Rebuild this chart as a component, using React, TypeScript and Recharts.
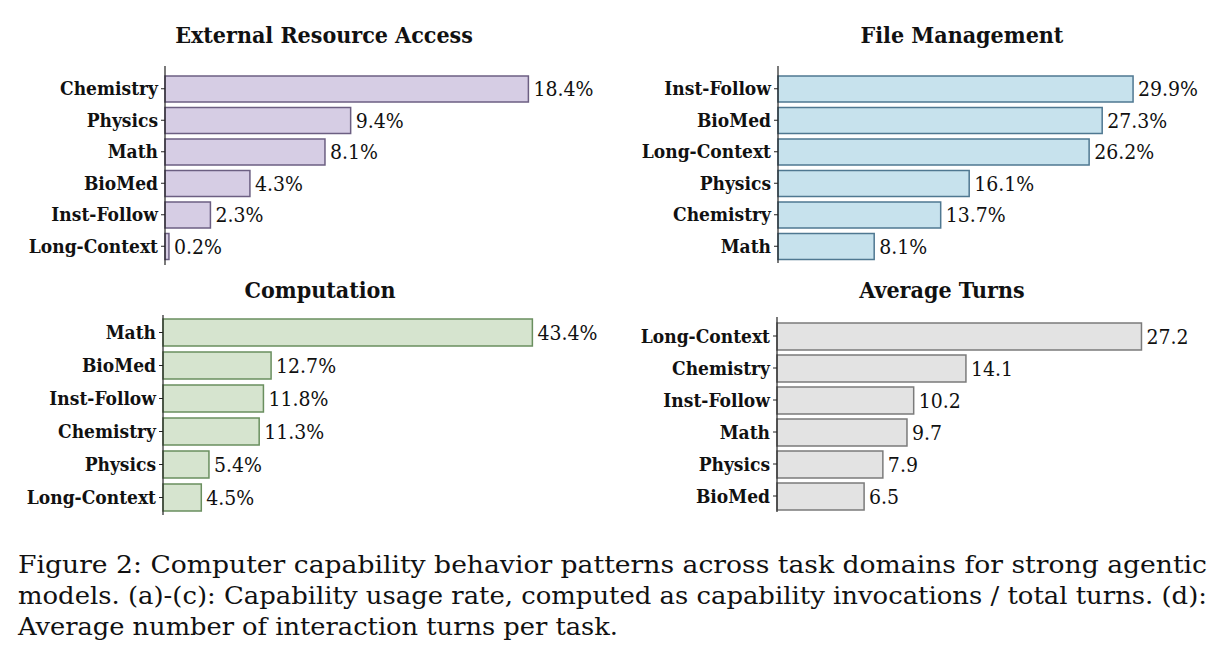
import React from "react";
import { Bar, BarChart, LabelList, XAxis, YAxis } from "recharts";

// Capability usage rate (%) per task domain, sorted high to low
const resourceDomains = ["Chemistry", "Physics", "Math", "BioMed", "Inst-Follow", "Long-Context"];
const resourceRates = [18.4, 9.4, 8.1, 4.3, 2.3, 0.2];

const fileDomains = ["Inst-Follow", "BioMed", "Long-Context", "Physics", "Chemistry", "Math"];
const fileRates = [29.9, 27.3, 26.2, 16.1, 13.7, 8.1];

const computeDomains = ["Math", "BioMed", "Inst-Follow", "Chemistry", "Physics", "Long-Context"];
const computeRates = [43.4, 12.7, 11.8, 11.3, 5.4, 4.5];

// Average interaction turns per task
const turnDomains = ["Long-Context", "Chemistry", "Inst-Follow", "Math", "Physics", "BioMed"];
const avgTurns = [27.2, 14.1, 10.2, 9.7, 7.9, 6.5];

const captionLines = [
  "Figure 2: Computer capability behavior patterns across task domains for strong agentic",
  "models. (a)-(c): Capability usage rate, computed as capability invocations / total turns. (d):",
  "Average number of interaction turns per task.",
];

const SERIF = "'DejaVu Serif Condensed', 'DejaVu Serif', serif";

type PanelProps = {
  title: string;
  domains: string[];
  values: number[];
  suffix: string;
  fill: string;
  stroke: string;
  left: number;
  axisX: number;
  axisTop: number;
  axisBottom: number;
  padTop: number;
  padBottom: number;
  barSize: number;
  xMax: number;
  plotWidth: number;
  titleX: number;
  titleY: number;
};

function Panel(p: PanelProps) {
  const data = p.domains.map((name, i) => ({ name, value: p.values[i] }));
  const yWidth = p.axisX - p.left;
  const rightRoom = 90;
  return (
    <>
      <div
        style={{
          position: "absolute",
          left: p.titleX - 200,
          top: p.titleY - 16,
          width: 400,
          textAlign: "center",
          fontFamily: SERIF,
          fontStretch: "condensed",
          fontWeight: "bold",
          fontSize: 23,
          lineHeight: "32px",
          color: "#111",
        }}
      >
        {p.title}
      </div>
      <div style={{ position: "absolute", left: p.left, top: p.axisTop, fontStretch: "condensed" }}>
        <BarChart
          width={yWidth + p.plotWidth + rightRoom}
          height={p.axisBottom - p.axisTop}
          data={data}
          layout="vertical"
          margin={{ top: 0, right: rightRoom, bottom: 0, left: 0 }}
        >
          <XAxis type="number" domain={[0, p.xMax]} hide />
          <YAxis
            type="category"
            dataKey="name"
            width={yWidth}
            padding={{ top: p.padTop, bottom: p.padBottom }}
            axisLine={{ stroke: "#222", strokeWidth: 1.2 }}
            tickLine={{ stroke: "#222" }}
            tickSize={4}
            tickMargin={3}
            interval={0}
            tick={{ fill: "#111", fontSize: 19, fontFamily: SERIF, fontWeight: "bold" }}
          />
          <Bar
            dataKey="value"
            fill={p.fill}
            stroke={p.stroke}
            strokeWidth={1.5}
            barSize={p.barSize}
            isAnimationActive={false}
          >
            <LabelList
              dataKey="value"
              position="right"
              offset={5}
              formatter={(v: number) => `${v}${p.suffix}`}
              fill="#111"
              fontSize={21}
              fontFamily={SERIF}
            />
          </Bar>
        </BarChart>
      </div>
    </>
  );
}

export default function App() {
  return (
    <div
      style={{
        position: "absolute",
        left: 0,
        top: 0,
        width: 1224,
        height: 670,
        background: "#fff",
        overflow: "hidden",
      }}
    >
      <Panel
        title="External Resource Access"
        domains={resourceDomains}
        values={resourceRates}
        suffix="%"
        fill="#d6cde4"
        stroke="#6c5f82"
        left={0}
        axisX={165}
        axisTop={66}
        axisBottom={265}
        padTop={7}
        padBottom={3}
        barSize={26}
        xMax={20}
        plotWidth={395}
        titleX={324}
        titleY={35}
      />
      <Panel
        title="File Management"
        domains={fileDomains}
        values={fileRates}
        suffix="%"
        fill="#c7e2ed"
        stroke="#4f7891"
        left={612}
        axisX={778}
        axisTop={66}
        axisBottom={263}
        padTop={7}
        padBottom={1}
        barSize={26}
        xMax={32}
        plotWidth={380}
        titleX={962}
        titleY={35}
      />
      <Panel
        title="Computation"
        domains={computeDomains}
        values={computeRates}
        suffix="%"
        fill="#d6e4cf"
        stroke="#6a8f5f"
        left={0}
        axisX={163}
        axisTop={315}
        axisBottom={515}
        padTop={1}
        padBottom={1}
        barSize={27}
        xMax={45}
        plotWidth={383}
        titleX={320}
        titleY={290}
      />
      <Panel
        title="Average Turns"
        domains={turnDomains}
        values={avgTurns}
        suffix=""
        fill="#e3e3e3"
        stroke="#7b7b7b"
        left={612}
        axisX={777}
        axisTop={317}
        axisBottom={512}
        padTop={3}
        padBottom={0}
        barSize={27}
        xMax={30}
        plotWidth={402}
        titleX={942}
        titleY={290}
      />
      <svg
        width={1224}
        height={130}
        style={{ position: "absolute", left: 0, top: 540, fontStretch: "condensed" }}
      >
        {captionLines.map((line, i) => (
          <text
            key={i}
            x={18}
            y={33 + i * 31}
            fontFamily={SERIF}
            fontSize={24}
            fill="#111"
            textLength={i < 2 ? 1189 : 600}
            lengthAdjust="spacingAndGlyphs"
          >
            {line}
          </text>
        ))}
      </svg>
    </div>
  );
}
